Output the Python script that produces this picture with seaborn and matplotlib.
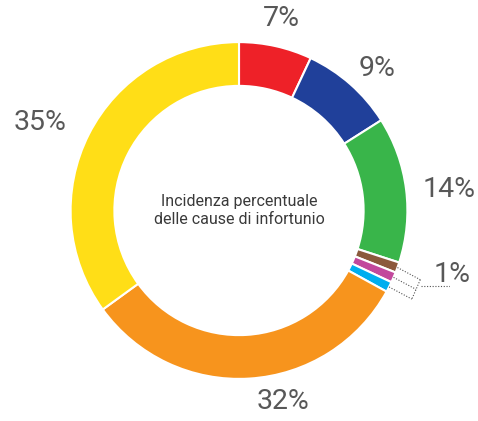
import numpy as np
import matplotlib
matplotlib.use("Agg")
import matplotlib.pyplot as plt
import seaborn as sns

categories = ["A", "B", "C", "D", "E", "F", "G", "H"]
values = [7, 9, 14, 1, 1, 1, 32, 35]
labels = ["7%", "9%", "14%", "", "", "", "32%", "35%"]
colors = ["#ee2128", "#20409a", "#39b54a", "#8b5a3c", "#c2489c", "#00aeef", "#f7941d", "#ffde17"]
small_label = "1%"
center_text = "Incidenza percentuale\ndelle cause di infortunio"

sns.set_theme(style="white")
plt.rcParams["font.family"] = ["Roboto", "DejaVu Sans"]

W, H = 478, 421
cx, cy, R = 238, 217, 170
fig = plt.figure(figsize=(W / 100, H / 100), dpi=100)
ax = fig.add_axes([0, 0, 1, 1])
ax.set_xlim(-cx / R, (W - cx) / R)
ax.set_ylim(-(H - cy) / R, cy / R)
ax.set_aspect("equal")
ax.axis("off")

ax.pie(values, colors=colors, startangle=90, counterclock=False, radius=1,
       wedgeprops=dict(width=0.26, edgecolor="white", linewidth=1.5))

def px(x, y):
    return (x - cx) / R, (cy - y) / R

txt_color = "#585858"
label_pos = {"7%": (281, 23), "9%": (377, 74), "14%": (450, 196), "32%": (282, 410), "35%": (37, 128)}
for lab in labels:
    if lab:
        x, y = px(*label_pos[lab])
        ax.text(x, y, lab, ha="center", va="center", fontsize=20.5, color=txt_color, fontweight="normal")

ax.text(0, 0, center_text, ha="center", va="center", fontsize=11.5, color="#3a3a3a",
        fontweight="normal", linespacing=1.3)

# callout for small slices
total = sum(values)
cum = np.cumsum([0] + values)
ends = []
idx_small = [i for i, v in enumerate(values) if labels[i] == ""]
bx, _ = px(421, 0)
for k, i in enumerate(idx_small):
    mid = (cum[i] + values[i] / 2) / total * 360
    ang = np.deg2rad(90 - mid)
    x0, y0 = 1.0 * np.cos(ang), 1.0 * np.sin(ang)
    x1 = bx - 0.025 * k
    y1 = y0 + (x1 - x0) * np.tan(np.deg2rad(-28))
    ax.plot([x0, x1], [y0, y1], ls=(0, (1, 1.5)), color="#555555", lw=0.8)
    ends.append((x1, y1))
ax.plot([e[0] for e in ends], [e[1] for e in ends], ls=(0, (1, 1.5)), color="#555555", lw=0.8)
hx, hy = px(422, 293)
ex, _ = px(472, 293)
ax.plot([hx, ex], [hy, hy], ls=(0, (1, 1.5)), color="#555555", lw=0.8)
lx, ly = px(453, 282)
ax.text(lx, ly, small_label, ha="center", va="center", fontsize=20.5, color=txt_color, fontweight="normal")

fig.savefig("out.png", dpi=100)
